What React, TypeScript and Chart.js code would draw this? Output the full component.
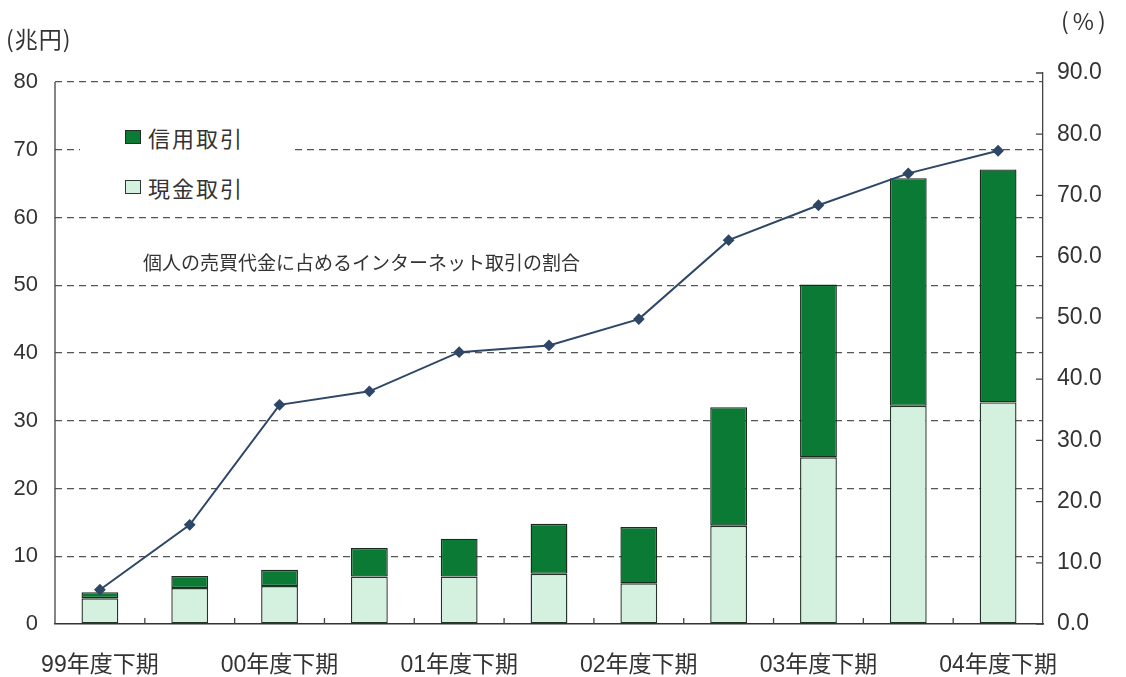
import React, { useEffect, useRef } from "react";
import { Chart, registerables } from "chart.js";

Chart.register(...registerables);

const categories = [
  "99年度下期", "00年度上期", "00年度下期", "01年度上期", "01年度下期", "02年度上期",
  "02年度下期", "03年度上期", "03年度下期", "04年度上期", "04年度下期",
];
// 現金取引 (兆円)
const cashValues = [3.8, 5.3, 5.6, 7.0, 7.0, 7.4, 6.0, 14.5, 24.6, 32.2, 32.7];
// 信用取引 (兆円)
const creditValues = [0.9, 1.8, 2.4, 4.2, 5.6, 7.4, 8.3, 17.5, 25.5, 33.6, 34.4];
// 個人の売買代金に占めるインターネット取引の割合 (%)
const shareValues = [5.6, 16.2, 35.8, 38.0, 44.4, 45.5, 49.8, 62.7, 68.4, 73.6, 77.3];
const leftTicks = [0, 10, 20, 30, 40, 50, 60, 70, 80];
const rightTicks = [0, 10, 20, 30, 40, 50, 60, 70, 80, 90];

const DARK = "#0b7a34";
const LIGHT = "#d3f1de";
const LINE = "#2f4767";
const TEXT = "#333333";
const FONT_FAMILY = '"Liberation Sans", Arial, "Noto Sans CJK JP", sans-serif';

const tickMarks = {
  id: "tickMarks",
  afterDraw(chart: any) {
    const ctx = chart.ctx;
    const x = chart.scales.x;
    const y = chart.scales.y;
    const y1 = chart.scales.y1;
    const area = chart.chartArea;
    ctx.save();
    ctx.strokeStyle = "#444";
    ctx.lineWidth = 1.3;
    ctx.beginPath();
    ctx.moveTo(area.left, y.getPixelForValue(leftTicks[leftTicks.length - 1]));
    ctx.lineTo(area.left, area.bottom);
    y1.ticks.forEach((t: any) => {
      const p = y1.getPixelForValue(t.value);
      ctx.moveTo(area.right - 7, p);
      ctx.lineTo(area.right, p);
    });
    for (let i = 0; i < categories.length - 1; i++) {
      const p = (x.getPixelForValue(i) + x.getPixelForValue(i + 1)) / 2;
      ctx.moveTo(p, area.bottom);
      ctx.lineTo(p, area.bottom - 6);
    }
    ctx.stroke();
    ctx.restore();
  },
};

export default function App() {
  const canvasRef = useRef<HTMLCanvasElement | null>(null);

  useEffect(() => {
    document.body.style.margin = "0";
    const canvas = canvasRef.current;
    if (!canvas) return;
    const chart = new Chart(canvas, {
      type: "bar",
      data: {
        labels: categories,
        datasets: [
          {
            type: "line",
            label: "割合",
            data: shareValues,
            yAxisID: "y1",
            borderColor: LINE,
            backgroundColor: LINE,
            borderWidth: 2,
            pointStyle: "rectRot",
            pointRadius: 4.5,
            pointBackgroundColor: LINE,
            pointBorderColor: LINE,
            tension: 0,
            order: 0,
          } as any,
          {
            label: "現金取引",
            data: cashValues,
            yAxisID: "y",
            backgroundColor: LIGHT,
            borderColor: "#26352a",
            borderWidth: 1.4,
            borderSkipped: false,
            barPercentage: 0.41,
            categoryPercentage: 1,
            order: 1,
          },
          {
            label: "信用取引",
            data: creditValues,
            yAxisID: "y",
            backgroundColor: DARK,
            borderColor: "#1c2a1f",
            borderWidth: 1.4,
            borderSkipped: false,
            barPercentage: 0.41,
            categoryPercentage: 1,
            order: 1,
          },
        ],
      },
      options: {
        animation: false,
        responsive: false,
        layout: { padding: { top: 73, left: 0, right: 0, bottom: 0 } },
        plugins: {
          legend: { display: false },
          tooltip: { enabled: false },
        },
        scales: {
          x: {
            stacked: true,
            offset: true,
            grid: { display: false },
            border: { display: true, color: "#333", width: 1.6 },
            ticks: {
              autoSkip: false,
              maxRotation: 0,
              minRotation: 0,
              padding: 20,
              color: TEXT,
              font: { family: FONT_FAMILY, size: 23 },
              callback: (_v: any, i: number) => (i % 2 === 0 ? categories[i] : ""),
            },
            afterFit: (s: any) => {
              s.height = 677 - 624;
            },
          },
          y: {
            stacked: true,
            position: "left",
            min: 0,
            max: 81.33,
            afterBuildTicks: (s: any) => {
              s.ticks = leftTicks.map((v) => ({ value: v }));
            },
            afterFit: (s: any) => {
              s.width = 55;
            },
            border: { display: false, dash: [7, 5] },
            grid: {
              drawTicks: false,
              color: (c: any) => (c.tick && c.tick.value === 0 ? "rgba(0,0,0,0)" : "#555"),
              lineWidth: 1.3,
            },
            ticks: {
              padding: 17,
              color: TEXT,
              font: { family: FONT_FAMILY, size: 22 },
              callback: (v: any) => String(v),
            },
          } as any,
          y1: {
            position: "right",
            min: 0,
            max: 90,
            afterBuildTicks: (s: any) => {
              s.ticks = rightTicks.map((v) => ({ value: v }));
            },
            afterFit: (s: any) => {
              s.width = 1126 - 1043;
            },
            border: { display: true, color: "#444", width: 1.3 },
            grid: { drawOnChartArea: false, drawTicks: false },
            ticks: {
              padding: 14,
              color: TEXT,
              font: { family: FONT_FAMILY, size: 23 },
              callback: (v: any) => Number(v).toFixed(1),
            },
          },
        },
      },
      plugins: [tickMarks],
    });
    return () => chart.destroy();
  }, []);

  const cjk = '"Noto Sans CJK JP", sans-serif';
  return (
    <div style={{ position: "relative", width: 1126, height: 677, background: "#fff" }}>
      <canvas ref={canvasRef} width={1126} height={677} style={{ display: "block" }} />
      <div style={{ position: "absolute", left: 6, top: 23, fontFamily: cjk, fontSize: 23, letterSpacing: 1, color: TEXT, lineHeight: "30px", whiteSpace: "nowrap" }}>
        (兆円)
      </div>
      <div style={{ position: "absolute", left: 1061, top: 5, fontFamily: cjk, fontSize: 23, letterSpacing: 4, color: TEXT, lineHeight: "30px", whiteSpace: "nowrap" }}>
        (%)
      </div>
      <div
        style={{
          position: "absolute",
          left: 80,
          top: 100,
          width: 212,
          height: 106,
          background: "#fff",
        }}
      >
        <div style={{ position: "absolute", left: 45, top: 30, width: 16, height: 14, background: DARK, border: "1px solid #1f2f22", boxSizing: "border-box" }} />
        <div style={{ position: "absolute", left: 68, top: 22, fontFamily: cjk, fontSize: 22, letterSpacing: 2, color: TEXT, lineHeight: "30px", whiteSpace: "nowrap" }}>
          信用取引
        </div>
        <div style={{ position: "absolute", left: 45, top: 80, width: 16, height: 14, background: LIGHT, border: "1px solid #2b3a2e", boxSizing: "border-box" }} />
        <div style={{ position: "absolute", left: 68, top: 72, fontFamily: cjk, fontSize: 22, letterSpacing: 2, color: TEXT, lineHeight: "30px", whiteSpace: "nowrap" }}>
          現金取引
        </div>
      </div>
      <div
        style={{
          position: "absolute",
          left: 143,
          top: 248,
          fontFamily: cjk,
          fontSize: 19,
          color: TEXT,
          lineHeight: "28px",
          whiteSpace: "nowrap",
        }}
      >
        個人の売買代金に占めるインターネット取引の割合
      </div>
    </div>
  );
}
